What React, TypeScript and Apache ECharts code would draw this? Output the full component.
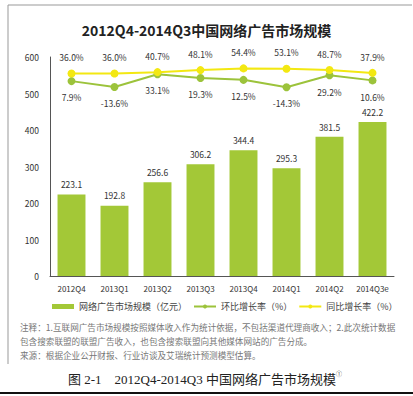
import React, { useEffect, useRef } from "react";
import * as echarts from "echarts";

const categories = ["2012Q4", "2013Q1", "2013Q2", "2013Q3", "2013Q4", "2014Q1", "2014Q2", "2014Q3e"];
const marketSize = [223.1, 192.8, 256.6, 306.2, 344.4, 295.3, 381.5, 422.2];
const qoqGrowth = [7.9, -13.6, 33.1, 19.3, 12.5, -14.3, 29.2, 10.6];
const yoyGrowth = [36.0, 36.0, 40.7, 48.1, 54.4, 53.1, 48.7, 37.9];
const yTicks = [0, 100, 200, 300, 400, 500, 600];

const titleText = "2012Q4-2014Q3中国网络广告市场规模";
const seriesNames = ["网络广告市场规模（亿元）", "环比增长率（%）", "同比增长率（%）"];
const noteLines = [
  "注释：1.互联网广告市场规模按照媒体收入作为统计依据，不包括渠道代理商收入；2.此次统计数据",
  "包含搜索联盟的联盟广告收入，也包含搜索联盟向其他媒体网站的广告分成。",
  "来源：根据企业公开财报、行业访谈及艾瑞统计预测模型估算。",
];
const captionText = "图 2-1    2012Q4-2014Q3 中国网络广告市场规模";

const FONT = '"Noto Sans CJK SC", "Noto Sans", sans-serif';
const BAR = "#a3c837";
const GREEN = "#9cc33b";
const YELLOW = "#f3e812";

export default function App() {
  const ref = useRef<HTMLDivElement>(null);
  useEffect(() => {
    if (!ref.current) return;
    const chart = echarts.init(ref.current, undefined, { renderer: "svg" });
    chart.setOption({
      animation: false,
      backgroundColor: "#ffffff",
      textStyle: { fontFamily: FONT },
      title: {
        text: titleText,
        left: "center",
        top: 18,
        textStyle: { fontFamily: FONT, fontSize: 14, fontWeight: "bold", color: "#222" },
      },
      legend: {
        top: 297,
        left: 47,
        itemWidth: 22,
        itemHeight: 5,
        itemGap: 6,
        textStyle: { fontFamily: FONT, fontSize: 9, color: "#444" },
        data: [
          { name: seriesNames[0], icon: "rect" },
          { name: seriesNames[1] },
          { name: seriesNames[2] },
        ],
      },
      grid: { left: 50, right: 19, top: 57, bottom: 120, containLabel: false },
      xAxis: {
        type: "category",
        data: categories,
        axisLine: { show: true, lineStyle: { color: "#555", width: 1 } },
        axisTick: { show: false },
        axisLabel: { interval: 0, fontFamily: FONT, fontSize: 8, color: "#333", margin: 8 },
      },
      yAxis: [
        {
          type: "value",
          min: yTicks[0],
          max: yTicks[yTicks.length - 1],
          interval: 100,
          splitLine: { show: false },
          axisLine: { show: true, lineStyle: { color: "#555", width: 1 } },
          axisTick: { show: false },
          axisLabel: { fontFamily: FONT, fontSize: 8.5, color: "#333", margin: 11 },
        },
        {
          type: "value",
          min: -704,
          max: 96,
          show: false,
          splitLine: { show: false },
        },
      ],
      series: [
        {
          name: seriesNames[0],
          type: "bar",
          data: marketSize,
          barWidth: "65%",
          itemStyle: { color: BAR },
          label: {
            show: true,
            position: "top",
            distance: 6,
            fontFamily: FONT,
            fontSize: 8.5,
            color: "#333",
            formatter: (p: any) => Number(p.value).toFixed(1),
          },
        },
        {
          name: seriesNames[1],
          type: "line",
          yAxisIndex: 1,
          data: qoqGrowth,
          symbol: "circle",
          symbolSize: 8,
          lineStyle: { color: GREEN, width: 2 },
          itemStyle: { color: GREEN },
          label: {
            show: true,
            position: "bottom",
            distance: 8,
            fontFamily: FONT,
            fontSize: 8.5,
            color: "#333",
            formatter: (p: any) => Number(p.value).toFixed(1) + "%",
          },
        },
        {
          name: seriesNames[2],
          type: "line",
          yAxisIndex: 1,
          data: yoyGrowth,
          symbol: "circle",
          symbolSize: 8,
          lineStyle: { color: YELLOW, width: 2 },
          itemStyle: { color: YELLOW },
          label: {
            show: true,
            position: "top",
            distance: 8,
            fontFamily: FONT,
            fontSize: 8.5,
            color: "#333",
            formatter: (p: any) => Number(p.value).toFixed(1) + "%",
          },
        },
      ],
      graphic: [
        { type: "line", shape: { x1: 8, y1: 5, x2: 412, y2: 5 }, style: { stroke: "#999", lineWidth: 1 } },
        { type: "line", shape: { x1: 8, y1: 5, x2: 8, y2: 364 }, style: { stroke: "#999", lineWidth: 1 } },
        { type: "line", shape: { x1: 0, y1: 393, x2: 413, y2: 393 }, style: { stroke: "#111", lineWidth: 2 } },
        ...noteLines.map((t, i) => ({
          type: "text",
          left: 20,
          top: 323 + i * 14,
          style: { text: t, font: `8.6px ${FONT}`, fill: "#777" },
        })),
        {
          type: "text",
          left: 68,
          top: 373,
          style: { text: captionText, font: `13px "Liberation Serif", "Noto Sans CJK SC", serif`, fill: "#222" },
        },
        {
          type: "text",
          left: 336,
          top: 370,
          style: { text: "①", font: `6px ${FONT}`, fill: "#444" },
        },
      ],
    });
    return () => chart.dispose();
  }, []);
  return (
    <div
      ref={ref}
      style={{ position: "fixed", left: 0, top: 0, width: 413, height: 396 }}
    />
  );
}
